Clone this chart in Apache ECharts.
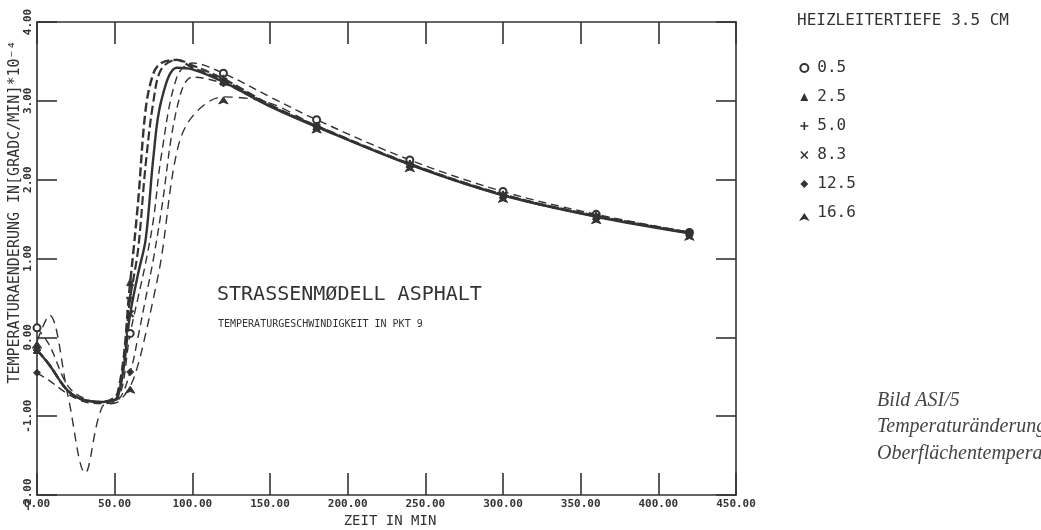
<!DOCTYPE html>
<html>
<head>
<meta charset="utf-8">
<script src="https://cdn.jsdelivr.net/npm/echarts@6/dist/echarts.min.js"></script>
<style>
html,body{margin:0;padding:0;background:#fff;}
#c{width:1041px;height:530px;}
</style>
</head>
<body>
<div id="c"></div>
<script>
// ---- data ----
var times = [0, 8, 20, 31, 42, 52, 60, 65, 70, 75, 80, 90, 100, 120, 150, 180, 240, 300, 360, 420];
var markerTimes = [0, 60, 120, 180, 240, 300, 360, 420];
var depthLabels = ['0.5', '2.5', '5.0', '8.3', '12.5', '16.6'];
var xTicks = [0, 50, 100, 150, 200, 250, 300, 350, 400, 450];
var yTicks = [-2, -1, 0, 1, 2, 3, 4];

var vals_05  = [0.12, -0.10, -0.62, -0.78, -0.82, -0.78, 0.05, 0.50, 0.95, 1.50, 2.30, 3.30, 3.48, 3.35, 3.05, 2.76, 2.25, 1.85, 1.56, 1.33];
var vals_25  = [-0.16, -0.35, -0.68, -0.80, -0.82, -0.70, 0.70, 1.70, 2.90, 3.35, 3.48, 3.52, 3.42, 3.26, 2.94, 2.68, 2.20, 1.81, 1.54, 1.33];
var vals_50  = [-0.16, -0.35, -0.68, -0.80, -0.82, -0.75, 0.50, 1.10, 2.20, 3.00, 3.40, 3.52, 3.45, 3.28, 2.95, 2.68, 2.20, 1.81, 1.54, 1.33];
var vals_83  = [-0.16, -0.35, -0.68, -0.80, -0.82, -0.75, 0.30, 0.80, 1.25, 2.30, 3.00, 3.42, 3.40, 3.24, 2.93, 2.67, 2.19, 1.80, 1.53, 1.32];
var vals_125 = [-0.45, -0.55, -0.72, -0.82, -0.84, -0.80, -0.44, 0.00, 0.50, 1.00, 1.60, 2.90, 3.30, 3.22, 2.93, 2.67, 2.19, 1.80, 1.53, 1.32];
var vals_166 = [-0.05, 0.28, -0.75, -1.72, -0.88, -0.82, -0.62, -0.35, 0.05, 0.50, 1.00, 2.35, 2.80, 3.05, 2.97, 2.68, 2.19, 1.80, 1.53, 1.32];

var seriesVals = [vals_05, vals_25, vals_50, vals_83, vals_125, vals_166];

// ---- styling ----
var ink = '#333';
var mono = '"DejaVu Sans Mono", "Liberation Mono", monospace';
var plusPath = 'path://M4,0H6V4H10V6H6V10H4V6H0V4H4Z';
var xPath = 'path://M1.4,0L5,3.6L8.6,0L10,1.4L6.4,5L10,8.6L8.6,10L5,6.4L1.4,10L0,8.6L3.6,5L0,1.4Z';
var symbols = ['emptyCircle', 'triangle', plusPath, xPath, 'diamond', 'arrow'];
var lineStyles = [
  {width: 1.4, type: [8, 5]},
  {width: 2.4, type: [9, 4]},
  {width: 2.2, type: [9, 4]},
  {width: 2.4, type: 'solid'},
  {width: 1.4, type: [8, 5]},
  {width: 1.4, type: [9, 6]}
];

var series = seriesVals.map(function (vals, k) {
  return {
    name: depthLabels[k],
    type: 'line',
    smooth: 0.35,
    symbol: symbols[k],
    symbolSize: 7,
    showSymbol: true,
    itemStyle: {color: ink, borderColor: ink},
    lineStyle: Object.assign({color: ink}, lineStyles[k]),
    z: 3,
    data: times.map(function (t, i) {
      return {value: [t, vals[i]], symbol: markerTimes.indexOf(t) >= 0 ? symbols[k] : 'none'};
    })
  };
});

var fmt = function (v) { return v.toFixed(2); };

var axisCommonX = {
  type: 'value', min: 0, max: 450, interval: 50,
  axisLine: {show: true, onZero: false, lineStyle: {color: ink, width: 1.6}},
  axisTick: {show: true, inside: true, length: 22, lineStyle: {color: ink, width: 1.6}},
  splitLine: {show: false}
};
var axisCommonY = {
  type: 'value', min: -2, max: 4, interval: 1,
  axisLine: {show: true, onZero: false, lineStyle: {color: ink, width: 1.6}},
  axisTick: {show: true, inside: true, length: 20, lineStyle: {color: ink, width: 1.6}},
  splitLine: {show: false}
};

var chart = echarts.init(document.getElementById('c'), null, {renderer: 'canvas'});
chart.setOption({
  backgroundColor: '#ffffff',
  animation: false,
  grid: {left: 37, right: 305, top: 22, bottom: 35, containLabel: false},
  xAxis: [
    Object.assign({}, axisCommonX, {position: 'bottom',
      axisLabel: {formatter: fmt, fontFamily: mono, fontSize: 11, fontWeight: 'bold', color: ink, margin: 4}}),
    Object.assign({}, axisCommonX, {position: 'top', axisLabel: {show: false}})
  ],
  yAxis: [
    Object.assign({}, axisCommonY, {position: 'left',
      axisLabel: {formatter: fmt, fontFamily: mono, fontSize: 11, fontWeight: 'bold', color: ink, rotate: 90, margin: 3}}),
    Object.assign({}, axisCommonY, {position: 'right', axisLabel: {show: false}})
  ],
  legend: {
    orient: 'vertical', left: 794, top: 55,
    itemWidth: 8, itemHeight: 8, itemGap: 13,
    textStyle: {fontFamily: mono, fontSize: 16, color: ink, padding: [0, 0, 0, 4]},
    data: depthLabels.map(function (n, k) { return {name: n, icon: symbols[k]}; })
  },
  graphic: [
    {type: 'text', left: 797, top: 13, style: {text: 'HEIZLEITERTIEFE 3.5 CM', font: '16px ' + mono, fill: ink}},
    {type: 'text', left: 217, top: 285, style: {text: 'STRASSENMØDELL ASPHALT', font: '20px ' + mono, fill: ink}},
    {type: 'text', left: 218, top: 319, style: {text: 'TEMPERATURGESCHWINDIGKEIT IN PKT 9', font: '10px ' + mono, fill: ink}},
    {type: 'text', x: 390, y: 521, style: {text: 'ZEIT IN MIN', font: '14px ' + mono, fill: ink, align: 'center', verticalAlign: 'middle'}},
    {type: 'text', x: 15, y: 212, rotation: Math.PI / 2,
      style: {text: 'TEMPERATURAENDERUNG IN[GRADC/MIN]*10⁻⁴', font: '15px ' + mono, fill: ink, align: 'center', verticalAlign: 'middle'}},
    {type: 'text', left: 877, top: 391, style: {text: 'Bild ASI/5', font: 'italic 20px "Liberation Serif", serif', fill: '#444'}},
    {type: 'text', left: 877, top: 417, style: {text: 'Temperaturänderung', font: 'italic 20px "Liberation Serif", serif', fill: '#444'}},
    {type: 'text', left: 877, top: 444, style: {text: 'Oberflächentemperatur', font: 'italic 20px "Liberation Serif", serif', fill: '#444'}}
  ],
  series: series
});
</script>
</body>
</html>
